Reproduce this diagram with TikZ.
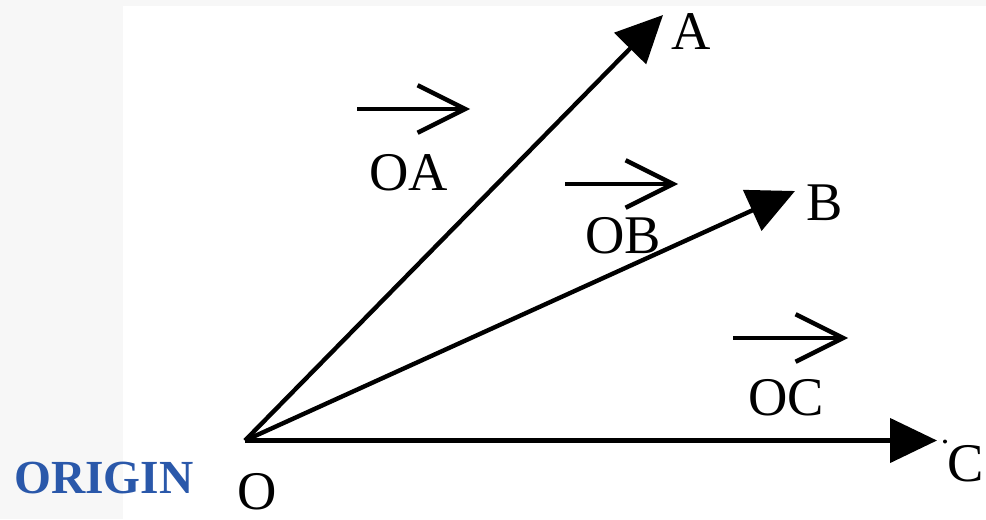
\documentclass[tikz,border=0pt]{standalone}
\usepackage{fontspec}
\setmainfont{Liberation Serif}
\usetikzlibrary{arrows.meta, calc}

\begin{document}
\begin{tikzpicture}[
    vec/.style={-{Triangle[length=0.94cm,width=0.88cm]}, line width=2.5pt},
    bar/.style={-{Straight Barb[length=0.95cm,width=0.95cm]}, line width=2.5pt},
    lbl/.style={font=\fontsize{31}{36}\selectfont, inner sep=0pt}
  ]

  % background
  \clip (0,0) rectangle (19.72,10.38);
  \fill[gray!6] (0,0) rectangle (19.72,10.38);
  \fill[white] (2.46,0) rectangle (19.72,10.26);

  % ---- points ----
  \coordinate (o) at (4.90,1.57);
  \coordinate (ta) at (13.26,10.08);
  \coordinate (tb) at (15.90,6.56);
  \coordinate (tc) at (18.74,1.57);

  % ---- vectors ----
  \draw[vec] (o) -- (ta);
  \draw[vec] (o) -- (tb);
  \draw[vec] (o) -- (tc);
  \fill (18.90,1.55) circle (0.04);

  % ---- end labels ----
  \node[lbl] (a) at (13.82,9.74) {A};
  \node[lbl] (b) at (16.50,6.32) {B};
  \node[lbl] (c) at (19.32,1.10) {C};
  \node[lbl] (olbl) at (5.14,0.54) {O};
  \node[lbl, font=\fontsize{27}{32}\selectfont\bfseries, text={rgb,255:red,42;green,88;blue,170}] (origin) at (2.08,0.82) {ORIGIN};

  % ---- vector names ----
  \node[lbl] (oa) at (8.18,6.92) {OA};
  \node[lbl] (ob) at (12.46,5.66) {OB};
  \node[lbl] (oc) at (15.72,2.42) {OC};

  \draw[bar] ($(oa)+(-1.04,1.28)$) -- ($(oa)+(1.22,1.28)$);
  \draw[bar] ($(ob)+(-1.16,1.04)$) -- ($(ob)+(1.10,1.04)$);
  \draw[bar] ($(oc)+(-1.06,1.20)$) -- ($(oc)+(1.24,1.20)$);
\end{tikzpicture}
\end{document}
